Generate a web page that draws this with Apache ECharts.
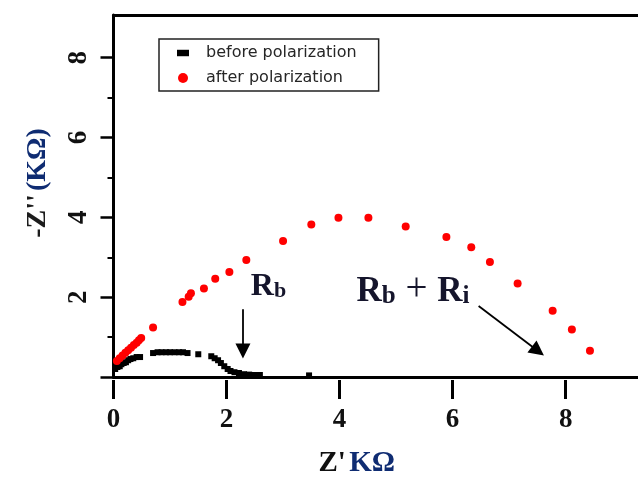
<!DOCTYPE html>
<html>
<head>
<meta charset="utf-8">
<script src="https://cdn.jsdelivr.net/npm/echarts@6/dist/echarts.min.js"></script>
<style>
  html, body { margin: 0; padding: 0; background: #fff; }
  #chart { width: 638px; height: 483px; }
</style>
</head>
<body>
<div id="chart"></div>
<script>
// Nyquist data, Z' and -Z'' in kΩ
const seriesNames = ['before polarization', 'after polarization'];

const beforeZre = [0.03, 0.07, 0.11, 0.14, 0.18, 0.22, 0.26, 0.30, 0.35, 0.41, 0.47,
                   0.70, 0.78, 0.85, 0.93, 1.00, 1.08, 1.16, 1.23, 1.31, 1.50,
                   1.73, 1.79, 1.85, 1.90, 1.96, 2.02, 2.07, 2.14, 2.22, 2.31, 2.40, 2.50, 2.59, 3.46];
const beforeZim = [0.20, 0.25, 0.27, 0.32, 0.35, 0.37, 0.42, 0.45, 0.47, 0.50, 0.50,
                   0.60, 0.62, 0.62, 0.62, 0.62, 0.62, 0.62, 0.62, 0.60, 0.57,
                   0.52, 0.47, 0.42, 0.35, 0.27, 0.20, 0.15, 0.12, 0.10, 0.07, 0.06, 0.05, 0.05, 0.04];

const afterZre = [0.06, 0.11, 0.16, 0.21, 0.26, 0.31, 0.36, 0.41, 0.45, 0.49, 0.70,
                  1.22, 1.33, 1.37, 1.60, 1.80, 2.05, 2.35, 3.00, 3.50, 3.98,
                  4.51, 5.17, 5.89, 6.33, 6.66, 7.15, 7.77, 8.11, 8.43];
const afterZim = [0.40, 0.47, 0.54, 0.61, 0.67, 0.73, 0.80, 0.86, 0.92, 0.98, 1.24,
                  1.88, 2.01, 2.10, 2.22, 2.46, 2.63, 2.93, 3.41, 3.82, 3.99,
                  3.99, 3.77, 3.51, 3.25, 2.88, 2.34, 1.66, 1.19, 0.66];

const xTickValues = [0, 2, 4, 6, 8];
const yMajorTicks = [0, 2, 4, 6, 8];
const yLabelValues = [2, 4, 6, 8];
const yMinorTicks = [1, 3, 5, 7];

// annotation arrows: [start, end] in axis units
const rbArrow = [[2.29, 1.70], [2.29, 0.65]];
const rbRiArrow = [[6.46, 1.78], [7.51, 0.65]];
// annotation text anchors (left edge, vertical middle)
const rbLabelAt = [2.43, 2.29];
const rbRiLabelAt = [4.30, 2.19];

const X_MAX = 9.28;
const Y_MAX = 9.07;

const zip = (xs, ys) => xs.map((x, i) => [x, ys[i]]);

const serif = 'Liberation Serif';
const ink = '#15152c';
const blue = '#0f2c72';

function annotationRich(size) {
  const sub = Math.round(size * 0.7);
  return {
    R: { fontFamily: serif, fontWeight: 'bold', fontSize: size, color: ink, verticalAlign: 'bottom', lineHeight: size + 2 },
    s: { fontFamily: serif, fontWeight: 'bold', fontSize: sub, color: ink, verticalAlign: 'bottom', lineHeight: sub + 6 },
    p: { fontFamily: serif, fontWeight: 'normal', fontSize: size + 4, color: ink, verticalAlign: 'bottom', lineHeight: size + 4 }
  };
}

const arrowHead = { symbol: 'triangle', symbolSize: 15 };
const plotRect = { left: 113.5, right: 0, top: 15, bottom: 103 };

const chart = echarts.init(document.getElementById('chart'), null, { renderer: 'canvas' });

chart.setOption({
  animation: false,
  backgroundColor: '#fff',
  grid: [
    Object.assign({}, plotRect),
    // overlay grid that carries the long Z' ticks
    Object.assign({}, plotRect)
  ],
  legend: {
    orient: 'vertical',
    left: 159,
    top: 39,
    padding: [5, 22, 4, 18],
    itemGap: 7,
    itemWidth: 12,
    itemHeight: 10,
    borderColor: '#222',
    borderWidth: 1.5,
    textStyle: { fontFamily: 'DejaVu Sans', fontSize: 16, color: '#262626', lineHeight: 18, padding: [0, 0, 0, 12] },
    data: [
      { name: seriesNames[0], icon: 'path://M0,0H13V7H0Z' },
      { name: seriesNames[1], icon: 'circle' }
    ]
  },
  xAxis: [
    {
      gridIndex: 0, type: 'value', min: 0, max: X_MAX, interval: 2, position: 'bottom',
      axisLine: { show: true, onZero: false, lineStyle: { color: '#000', width: 3 } },
      axisTick: { show: false },
      axisLabel: { show: true, customValues: xTickValues, fontFamily: serif, fontWeight: 'bold', fontSize: 27, color: '#111', margin: 30 },
      splitLine: { show: false },
      name: "{a|Z'} {b|KΩ}",
      nameLocation: 'middle',
      nameGap: 72,
      nameTextStyle: {
        padding: [0, 38, 0, 0],
        rich: {
          a: { fontFamily: serif, fontWeight: 'bold', fontSize: 29, color: '#111' },
          b: { fontFamily: serif, fontWeight: 'bold', fontSize: 29, color: blue }
        }
      }
    },
    {
      // frame line along the top edge
      gridIndex: 0, type: 'value', min: 0, max: X_MAX, position: 'top',
      axisLine: { show: true, onZero: false, lineStyle: { color: '#000', width: 3 } },
      axisTick: { show: false }, axisLabel: { show: false }, splitLine: { show: false }
    },
    {
      // long outward ticks under the Z' axis
      gridIndex: 1, type: 'value', min: 0, max: X_MAX, interval: 2, position: 'bottom',
      axisLine: { show: false, onZero: false },
      axisTick: { show: true, customValues: xTickValues, length: 19, lineStyle: { color: '#000', width: 3 } },
      axisLabel: { show: false }, splitLine: { show: false }
    }
  ],
  yAxis: [
    {
      gridIndex: 0, type: 'value', min: 0, max: Y_MAX, interval: 2, position: 'left',
      axisLine: { show: true, onZero: false, lineStyle: { color: '#000', width: 3 } },
      axisTick: { show: true, customValues: yMajorTicks, length: 13, lineStyle: { color: '#000', width: 2.5 } },
      axisLabel: { customValues: yLabelValues, rotate: 90, fontFamily: serif, fontWeight: 'bold', fontSize: 27, color: '#111', margin: 21 },
      splitLine: { show: false },
      name: "{a|-Z''} {b|(KΩ)}",
      nameLocation: 'middle',
      nameRotate: 90,
      nameGap: 62,
      nameTextStyle: {
        padding: [0, 0, 0, 26],
        rich: {
          a: { fontFamily: serif, fontWeight: 'bold', fontSize: 28, color: '#1c1c1c' },
          b: { fontFamily: serif, fontWeight: 'bold', fontSize: 28, color: blue }
        }
      }
    },
    {
      // odd-value minor ticks on the same left axis line
      gridIndex: 0, type: 'value', min: 0, max: Y_MAX, position: 'left',
      axisLine: { show: false, onZero: false },
      axisTick: { show: true, customValues: yMinorTicks, length: 6, lineStyle: { color: '#000', width: 2 } },
      axisLabel: { show: false }, splitLine: { show: false }
    },
    {
      gridIndex: 1, type: 'value', min: 0, max: Y_MAX, show: false
    }
  ],
  series: [
    {
      name: seriesNames[0], type: 'scatter', xAxisIndex: 0, yAxisIndex: 0,
      symbol: 'rect', symbolSize: 6,
      itemStyle: { color: '#000', opacity: 1 },
      data: zip(beforeZre, beforeZim)
    },
    {
      name: seriesNames[1], type: 'scatter', xAxisIndex: 0, yAxisIndex: 0,
      symbol: 'circle', symbolSize: 8,
      itemStyle: { color: '#ff0000', opacity: 1 },
      data: zip(afterZre, afterZim)
    },
    {
      name: 'annotations', type: 'line', xAxisIndex: 0, yAxisIndex: 0,
      data: [], silent: true, showSymbol: false,
      markLine: {
        silent: true,
        symbol: ['none', 'triangle'],
        symbolSize: 15,
        label: { show: false },
        lineStyle: { color: '#000', width: 1.8, type: 'solid' },
        data: [
          [{ coord: rbArrow[0], symbol: 'none' }, Object.assign({ coord: rbArrow[1] }, arrowHead)],
          [{ coord: rbRiArrow[0], symbol: 'none' }, Object.assign({ coord: rbRiArrow[1] }, arrowHead)]
        ]
      },
      markPoint: {
        silent: true,
        symbol: 'circle',
        symbolSize: 0,
        data: [
          { coord: rbLabelAt, label: { show: true, position: 'right', distance: 0, formatter: '{R|R}{s|b}', rich: annotationRich(32) } },
          { coord: rbRiLabelAt, label: { show: true, position: 'right', distance: 0, formatter: '{R|R}{s|b}{p| + }{R|R}{s|i}', rich: annotationRich(35) } }
        ]
      }
    }
  ]
});
</script>
</body>
</html>
